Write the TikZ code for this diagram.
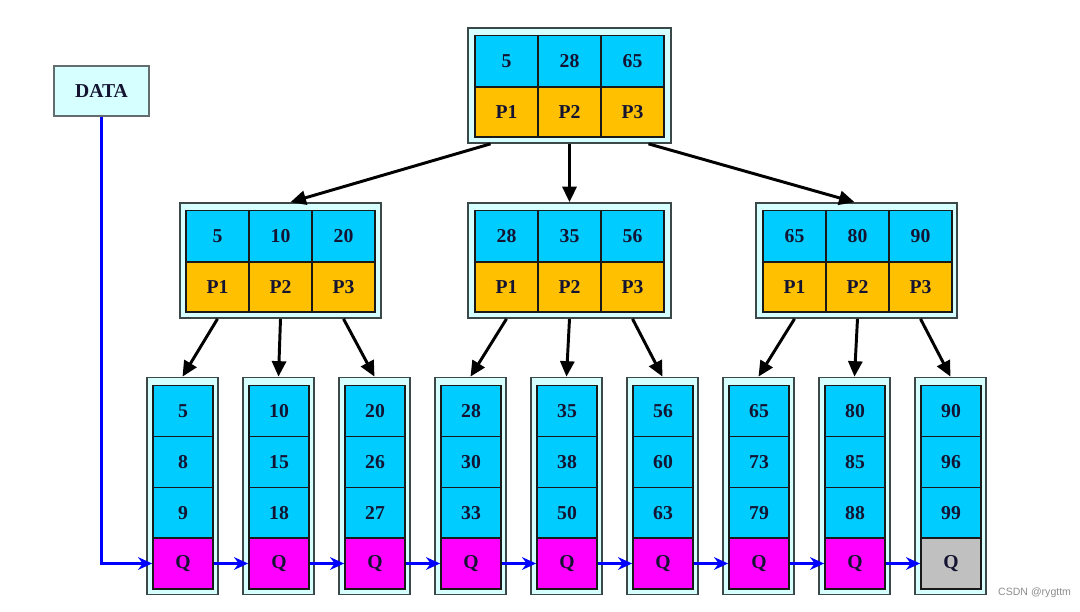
\documentclass[tikz,border=0pt]{standalone}
\usepackage{fontspec}
\setmainfont{Liberation Serif}
\newfontfamily\marksans{Liberation Sans}
\usetikzlibrary{arrows.meta}
\definecolor{keyblue}{RGB}{0,204,255}
\definecolor{ptrgold}{RGB}{255,192,0}
\definecolor{qpink}{RGB}{255,0,255}
\definecolor{qgray}{RGB}{192,192,192}
\definecolor{boxcyan}{RGB}{214,255,255}
\definecolor{boxline}{RGB}{60,72,72}
\definecolor{inkblue}{RGB}{20,20,50}
\tikzset{
  cell/.style={draw=black!90, line width=1.2pt, inner sep=0pt, text=inkblue,
    font=\fontsize{14}{16}\selectfont\bfseries},
  keycell/.style={cell, fill=keyblue, minimum width=1.575cm, minimum height=1.275cm},
  ptrcell/.style={cell, fill=ptrgold, minimum width=1.575cm, minimum height=1.25cm},
  leafcell/.style={cell, minimum width=1.5cm, minimum height=1.275cm},
  outerbox/.style={draw=boxline, line width=1.2pt, fill=boxcyan, inner sep=0pt},
  treelink/.style={line width=2.1pt, -{Triangle[length=11pt,width=10pt]}},
  leaflink/.style={blue, line width=2.1pt, -{Stealth[length=10pt,width=9pt]}}
}
\begin{document}
\begin{tikzpicture}[x=0.025cm, y=-0.025cm]
    \useasboundingbox (0,0) rectangle (1080,612);
    % data pointer
    \node[outerbox, draw=boxline!80, minimum width=2.375cm, minimum height=1.25cm,
      text=inkblue, font=\fontsize{14}{16}\selectfont\bfseries] (data) at (101.5,91) {DATA};
    % root
    \node[outerbox, minimum width=5.075cm, minimum height=2.875cm] (root) at (569.5,85.5) {};
    \node[keycell] (root-k1) at (506.5,61) {5};
    \node[keycell] (root-k2) at (569.5,61) {28};
    \node[keycell] (root-k3) at (632.5,61) {65};
    \node[ptrcell] (root-p1) at (506.5,112) {P1};
    \node[ptrcell] (root-p2) at (569.5,112) {P2};
    \node[ptrcell] (root-p3) at (632.5,112) {P3};
    % second level
    \node[outerbox, minimum width=5.025cm, minimum height=2.875cm] (mid1) at (280.5,260.5) {};
    \node[keycell] (mid1-k1) at (217.5,236) {5};
    \node[keycell] (mid1-k2) at (280.5,236) {10};
    \node[keycell] (mid1-k3) at (343.5,236) {20};
    \node[ptrcell] (mid1-p1) at (217.5,287) {P1};
    \node[ptrcell] (mid1-p2) at (280.5,287) {P2};
    \node[ptrcell] (mid1-p3) at (343.5,287) {P3};
    \node[outerbox, minimum width=5.075cm, minimum height=2.875cm] (mid2) at (569.5,260.5) {};
    \node[keycell] (mid2-k1) at (506.5,236) {28};
    \node[keycell] (mid2-k2) at (569.5,236) {35};
    \node[keycell] (mid2-k3) at (632.5,236) {56};
    \node[ptrcell] (mid2-p1) at (506.5,287) {P1};
    \node[ptrcell] (mid2-p2) at (569.5,287) {P2};
    \node[ptrcell] (mid2-p3) at (632.5,287) {P3};
    \node[outerbox, minimum width=5.025cm, minimum height=2.875cm] (mid3) at (856.5,260.5) {};
    \node[keycell] (mid3-k1) at (794.5,236) {65};
    \node[keycell] (mid3-k2) at (857.5,236) {80};
    \node[keycell] (mid3-k3) at (920.5,236) {90};
    \node[ptrcell] (mid3-p1) at (794.5,287) {P1};
    \node[ptrcell] (mid3-p2) at (857.5,287) {P2};
    \node[ptrcell] (mid3-p3) at (920.5,287) {P3};
    % leaves
    \foreach \ka/\kb/\kc/\qfill [count=\n] in {5/8/9/qpink, 10/15/18/qpink, 20/26/27/qpink,
        28/30/33/qpink, 35/38/50/qpink, 56/60/63/qpink, 65/73/79/qpink, 80/85/88/qpink,
        90/96/99/qgray}{
      \node[outerbox, minimum width=1.775cm, minimum height=5.425cm] (leaf\n) at ({182.5+96*(\n-1)},486) {};
      \node[leafcell, fill=keyblue] (leaf\n-a) at ({183+96*(\n-1)},411) {\ka};
      \node[leafcell, fill=keyblue] (leaf\n-b) at ({183+96*(\n-1)},462) {\kb};
      \node[leafcell, fill=keyblue] (leaf\n-c) at ({183+96*(\n-1)},513) {\kc};
      \node[leafcell, fill=\qfill] (leaf\n-q) at ({183+96*(\n-1)},563.5) {Q};
    }
    % tree pointers
    \draw[treelink] ([xshift=-0.4cm]root.south -| root-p1) -- ([xshift=0.25cm]mid1.north);
    \draw[treelink] (root.south -| root-p2) -- (mid2.north);
    \draw[treelink] ([xshift=0.4cm]root.south -| root-p3) -- ([xshift=-0.05cm]mid3.north);
    \draw[treelink] (mid1.south -| mid1-p1) -- (leaf1.north);
    \draw[treelink] (mid1.south -| mid1-p2) -- (leaf2.north);
    \draw[treelink] (mid1.south -| mid1-p3) -- (leaf3.north);
    \draw[treelink] (mid2.south -| mid2-p1) -- (leaf4.north);
    \draw[treelink] (mid2.south -| mid2-p2) -- (leaf5.north);
    \draw[treelink] (mid2.south -| mid2-p3) -- (leaf6.north);
    \draw[treelink] (mid3.south -| mid3-p1) -- (leaf7.north);
    \draw[treelink] (mid3.south -| mid3-p2) -- (leaf8.north);
    \draw[treelink] (mid3.south -| mid3-p3) -- (leaf9.north);
    % leaf chain
    \draw[leaflink] (data.south) |- (leaf1-q.west);
    \foreach \n [evaluate=\n as \m using int(\n+1)] in {1,...,8}
      \draw[leaflink] (leaf\n-q.east) -- (leaf\m-q.west);
    \node[anchor=east, text=black!45, font=\marksans\fontsize{7.5}{9}\selectfont] (mark) at (1076,593) {CSDN @rygttm};
\end{tikzpicture}
\end{document}
